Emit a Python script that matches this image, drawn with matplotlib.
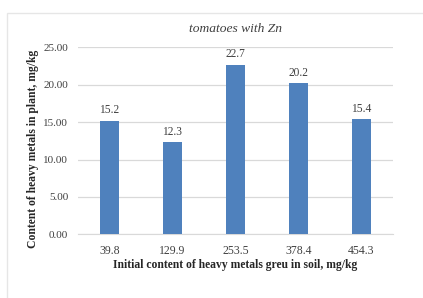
import matplotlib
matplotlib.use("Agg")
import matplotlib.pyplot as plt
from matplotlib.patches import Rectangle

categories = ["39.8", "129.9", "253.5", "378.4", "454.3"]
values = [15.2, 12.3, 22.7, 20.2, 15.4]
yticks = [0, 5, 10, 15, 20, 25]

W, H = 423, 298
fig = plt.figure(figsize=(W / 100, H / 100), dpi=100)
fig.patch.set_facecolor("white")
fig.patches.append(Rectangle((7 / W, -0.1), 1.2, 1 - 13 / H + 0.1, transform=fig.transFigure,
                             fill=False, edgecolor="#e6e6e6", linewidth=1.0))

ax = fig.add_axes([78 / W, 1 - 234.3 / H, (393 - 78) / W, (234.3 - 47.3) / H])
serif = "Liberation Serif"
x = range(len(categories))
bars = ax.bar(x, values, width=0.3, color="#4F81BD", zorder=3)
ax.set_xlim(-0.5, len(categories) - 0.5)
ax.set_ylim(0, 25)
ax.set_yticks(yticks)
ax.set_yticklabels([f"{v:.2f}" for v in yticks], fontfamily=serif, fontsize=8, color="#404040")
ax.set_xticks(list(x))
ax.set_xticklabels(categories, fontfamily=serif, fontsize=8.5, color="#404040")
ax.tick_params(axis="y", length=0, pad=7)
ax.tick_params(axis="x", length=0, pad=8)
ax.grid(axis="y", color="#d9d9d9", linewidth=0.9, zorder=0)
for s in ["top", "right", "left"]:
    ax.spines[s].set_visible(False)
ax.spines["bottom"].set_color("#d9d9d9")
for b, v in zip(bars, values):
    ax.annotate(f"{v}", (b.get_x() + b.get_width() / 2, v), xytext=(0, 3), textcoords="offset points",
                ha="center", va="bottom", fontfamily=serif, fontsize=8.3, color="#404040")

fig.text((78 + 393) / 2 / W, 1 - 29 / H, "tomatoes with Zn", ha="center", va="center",
         fontfamily=serif, fontstyle="italic", fontsize=9.7, color="#404040")
fig.text((78 + 393) / 2 / W, 1 - 265 / H, "Initial content of heavy metals greu in soil, mg/kg",
         ha="center", va="center", fontfamily=serif, fontweight="bold", fontsize=8.4, color="#262626")
fig.text(33 / W, 1 - 149 / H, "Content of heavy metals in plant, mg/kg", rotation=90,
         ha="center", va="center", fontfamily=serif, fontweight="bold", fontsize=8.4, color="#262626")

fig.savefig("out.png", dpi=100)
